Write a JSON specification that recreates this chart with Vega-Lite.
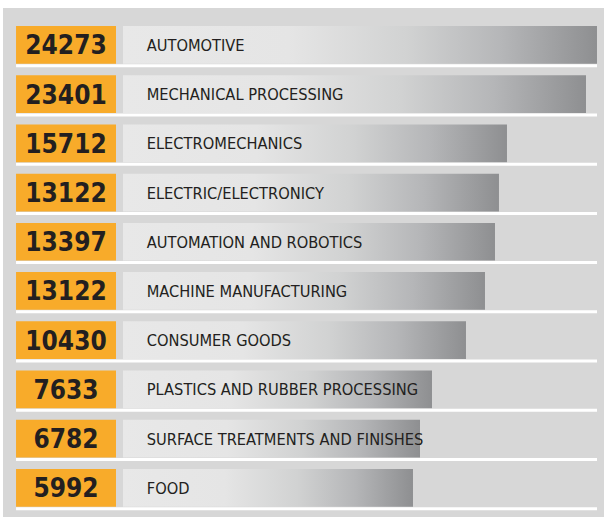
{
  "$schema": "https://vega.github.io/schema/vega-lite/v6.json",
  "width": 601,
  "height": 509,
  "autosize": {"type": "none"},
  "padding": {"top": 8, "left": 3, "right": 0, "bottom": 0},
  "background": "#ffffff",
  "config": {"view": {"stroke": null, "fill": "#d7d7d7"}},
  "data": {
    "values": [
      {"label": "AUTOMOTIVE", "value": 24273, "bar": 100},
      {"label": "MECHANICAL PROCESSING", "value": 23401, "bar": 97.68},
      {"label": "ELECTROMECHANICS", "value": 15712, "bar": 81.01},
      {"label": "ELECTRIC/ELECTRONICY", "value": 13122, "bar": 79.32},
      {"label": "AUTOMATION AND ROBOTICS", "value": 13397, "bar": 78.48},
      {"label": "MACHINE MANUFACTURING", "value": 13122, "bar": 76.37},
      {"label": "CONSUMER GOODS", "value": 10430, "bar": 72.36},
      {"label": "PLASTICS AND RUBBER PROCESSING", "value": 7633, "bar": 65.19},
      {"label": "SURFACE TREATMENTS AND FINISHES", "value": 6782, "bar": 62.66},
      {"label": "FOOD", "value": 5992, "bar": 61.18}
    ]
  },
  "layer": [
    {
      "mark": {
        "type": "bar",
        "fill": {
          "gradient": "linear", "x1": 0, "x2": 1, "y1": 0, "y2": 0,
          "stops": [
            {"offset": 0, "color": "#e8e8e8"},
            {"offset": 0.35, "color": "#e5e5e5"},
            {"offset": 0.6, "color": "#d1d2d2"},
            {"offset": 0.8, "color": "#b5b6b8"},
            {"offset": 1, "color": "#8e8f91"}
          ]
        }
      },
      "encoding": {
        "y": {"field": "label", "type": "nominal", "sort": null,
              "scale": {"type": "band", "paddingInner": 0.2337, "paddingOuter": 0.2876, "align": 0.636},
              "axis": null},
        "x": {"field": "bar", "type": "quantitative",
              "scale": {"domain": [-25.32, 101.48], "nice": false, "zero": false},
              "axis": null}
      }
    },
    {
      "mark": {"type": "rule", "color": "#ffffff", "strokeWidth": 3, "yOffset": 2},
      "encoding": {
        "y": {"field": "label", "type": "nominal", "sort": null, "bandPosition": 1},
        "x": {"datum": -22.57},
        "x2": {"datum": 100}
      }
    },
    {
      "mark": {"type": "bar", "color": "#f8ab2a"},
      "encoding": {
        "y": {"field": "label", "type": "nominal", "sort": null},
        "x": {"datum": -22.57},
        "x2": {"datum": -1.48}
      }
    },
    {
      "mark": {"type": "text", "align": "center", "baseline": "alphabetic", "dy": 9.5,
               "font": "DejaVu Sans Condensed, sans-serif",
               "fontSize": 26, "fontWeight": "bold", "color": "#231f20"},
      "encoding": {
        "y": {"field": "label", "type": "nominal", "sort": null},
        "x": {"datum": -12.03},
        "text": {"field": "value", "type": "quantitative", "format": "d"}
      }
    },
    {
      "mark": {"type": "text", "align": "left", "baseline": "alphabetic", "dy": 6,
               "font": "DejaVu Sans Condensed, sans-serif",
               "fontSize": 16.3, "color": "#231f20"},
      "encoding": {
        "y": {"field": "label", "type": "nominal", "sort": null},
        "x": {"datum": 5},
        "text": {"field": "label", "type": "nominal"}
      }
    }
  ]
}
